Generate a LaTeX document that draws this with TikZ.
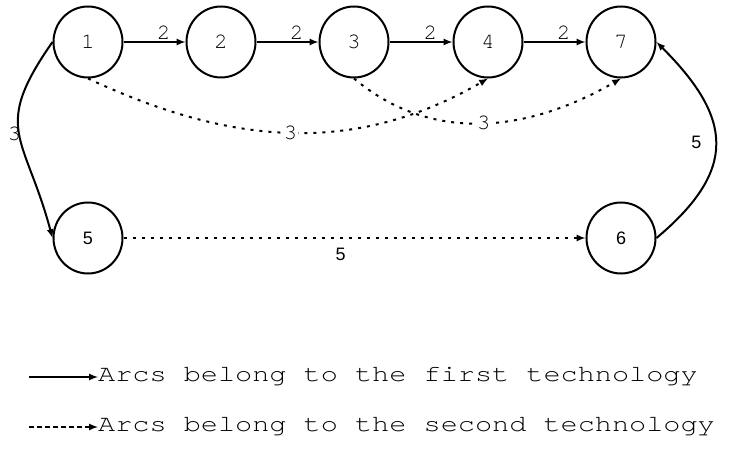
\documentclass[tikz,border=0pt]{standalone}
\usepackage{fontspec}
\setmainfont{TeX Gyre Cursor}
\newfontfamily\numsans{Liberation Sans}
\newfontfamily\legendfont[FakeStretch=1.22,Ligatures=NoCommon]{TeX Gyre Cursor}
\usetikzlibrary{arrows, positioning, shapes.geometric}

\begin{document}
\begin{tikzpicture}[x=1pt,y=1pt,>=latex,font=\fontsize{22}{26}\selectfont]
 \tikzstyle{vertex}=[ellipse,draw=black,line width=2pt,
   minimum width=69pt,minimum height=71pt,inner sep=0pt]
 \tikzstyle{firsttech}=[->,line width=2pt]
 \tikzstyle{secondtech}=[->,line width=2pt,dash pattern=on 3pt off 6pt]
 \useasboundingbox (0,0) rectangle (735,-449);
 \node (v1) [vertex] at (88,-42) {1};
 \node (v2) [vertex] at (221,-42) {2};
 \node (v3) [vertex] at (354,-42) {3};
 \node (v4) [vertex] at (488,-42) {4};
 \node (v7) [vertex] at (621,-42) {7};
 \node (v5) [vertex] at (88,-238) {\numsans\fontsize{18}{22}\selectfont 5};
 \node (v6) [vertex] at (621,-238) {\numsans\fontsize{18}{22}\selectfont 6};
 \draw[firsttech] (v1) -- node[above,pos=0.65,inner sep=1pt]{2} (v2);
 \draw[firsttech] (v2) -- node[above,pos=0.65,inner sep=1pt]{2} (v3);
 \draw[firsttech] (v3) -- node[above,pos=0.65,inner sep=1pt]{2} (v4);
 \draw[firsttech] (v4) -- node[above,pos=0.65,inner sep=1pt]{2} (v7);
 \draw[firsttech] (v1.west) to[out=235,in=105,looseness=1.4]
   node[left,pos=0.5,inner sep=0pt,xshift=3pt]{3} (v5.west);
 \draw[firsttech] (v6.east) to[out=40,in=-45,looseness=1.4]
   node[left,pos=0.5,xshift=-10pt]{\numsans\fontsize{18}{22}\selectfont 5} (v7.east);
 \draw[secondtech] (v1.south) to[out=-25,in=-150]
   node[fill=white,inner sep=1pt,pos=0.5]{3} (v4.south);
 \draw[secondtech] (v3.south) to[out=-40,in=-150]
   node[fill=white,inner sep=1pt,pos=0.5]{3} (v7.south);
 \draw[secondtech] (v5) -- node[below,pos=0.47,yshift=-6pt]
   {\numsans\fontsize{18}{22}\selectfont 5} (v6);
 % legend
 \coordinate (l1) at (29,-377);
 \coordinate (l2) at (29,-427);
 \node (t1) [anchor=west,inner sep=0pt,font=\legendfont\fontsize{23.4}{28}\selectfont]
   at (98,-377) {Arcs belong to the first technology};
 \node (t2) [anchor=west,inner sep=0pt,font=\legendfont\fontsize{23.4}{28}\selectfont]
   at (98,-427) {Arcs belong to the second technology};
 \draw[firsttech] (l1) -- (t1.west);
 \draw[->,line width=2pt,dash pattern=on 5pt off 3pt] (l2) -- (t2.west);
\end{tikzpicture}
\end{document}
